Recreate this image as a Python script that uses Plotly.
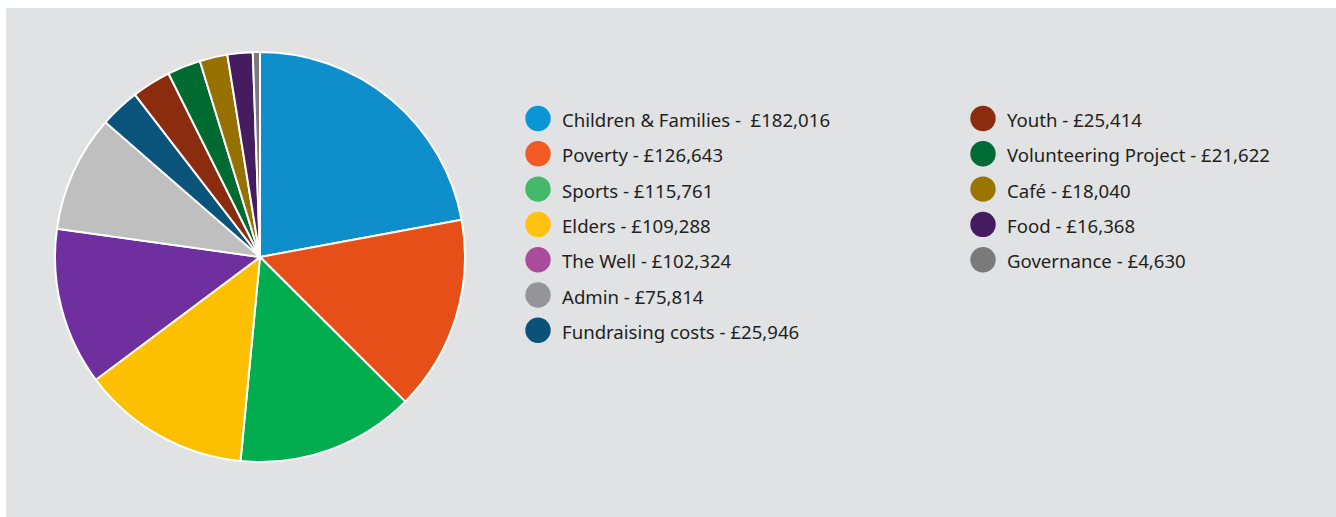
import plotly.graph_objects as go

categories = ["Children & Families", "Poverty", "Sports", "Elders", "The Well", "Admin",
              "Fundraising costs", "Youth", "Volunteering Project", "Café", "Food", "Governance"]
values = [182016, 126643, 115761, 109288, 102324, 75814, 25946, 25414, 21622, 18040, 16368, 4630]
separators = [" -  "] + [" - "] * 11
pie_colors = ["#0e8fcc", "#e65018", "#02ad4f", "#fdc000", "#6f2f9f", "#bfbfbf",
              "#0a537a", "#8b2c0f", "#006b31", "#977100", "#461c60", "#7a7a7a"]
legend_colors = ["#0a96d6", "#f15a22", "#45b86a", "#ffc20e", "#a94c9c", "#939598",
                 "#0b5279", "#8b2c0f", "#006b34", "#9a7500", "#461c60", "#7a7a7a"]

W, H = 1336, 517
BG = "#e1e2e4"


def px(x):
    return x / W


def py(y):
    return (H - y) / H


fig = go.Figure()
fig.add_trace(go.Pie(
    labels=categories, values=values, sort=False, direction="clockwise", rotation=0,
    marker=dict(colors=pie_colors, line=dict(color="white", width=2)),
    textinfo="none", hoverinfo="label+value", showlegend=False,
    domain=dict(x=[px(55), px(465)], y=[py(462), py(52)]),
))

shapes = [dict(type="rect", xref="paper", yref="paper", x0=px(6), x1=1.0, y0=0, y1=py(8),
               fillcolor=BG, line=dict(width=0), layer="below")]
annotations = []
rows_per_col = 7
col_x = [538, 983]
row_y0, row_dy = 118.5, 35.3
r = 12.7
for i, (cat, val, sep, col) in enumerate(zip(categories, values, separators, legend_colors)):
    c = i // rows_per_col
    rw = i % rows_per_col
    cx, cy = col_x[c], row_y0 + rw * row_dy
    shapes.append(dict(type="circle", xref="paper", yref="paper",
                       x0=px(cx - r), x1=px(cx + r), y0=py(cy + r), y1=py(cy - r),
                       fillcolor=col, line=dict(width=0)))
    annotations.append(dict(xref="paper", yref="paper", x=px(cx + 21.5), y=py(cy + 1),
                            xanchor="left", yanchor="middle", showarrow=False,
                            text=f"{cat}{sep}£{val:,}",
                            font=dict(family="Noto Sans", size=18.6, color="#231f20")))

fig.update_layout(
    width=W, height=H, margin=dict(l=0, r=0, t=0, b=0),
    paper_bgcolor="white", plot_bgcolor="white",
    shapes=shapes, annotations=annotations,
)
fig.write_html("out.html", config={"displayModeBar": False},
               post_script="document.body.style.margin='0';document.body.style.overflow='hidden';")
